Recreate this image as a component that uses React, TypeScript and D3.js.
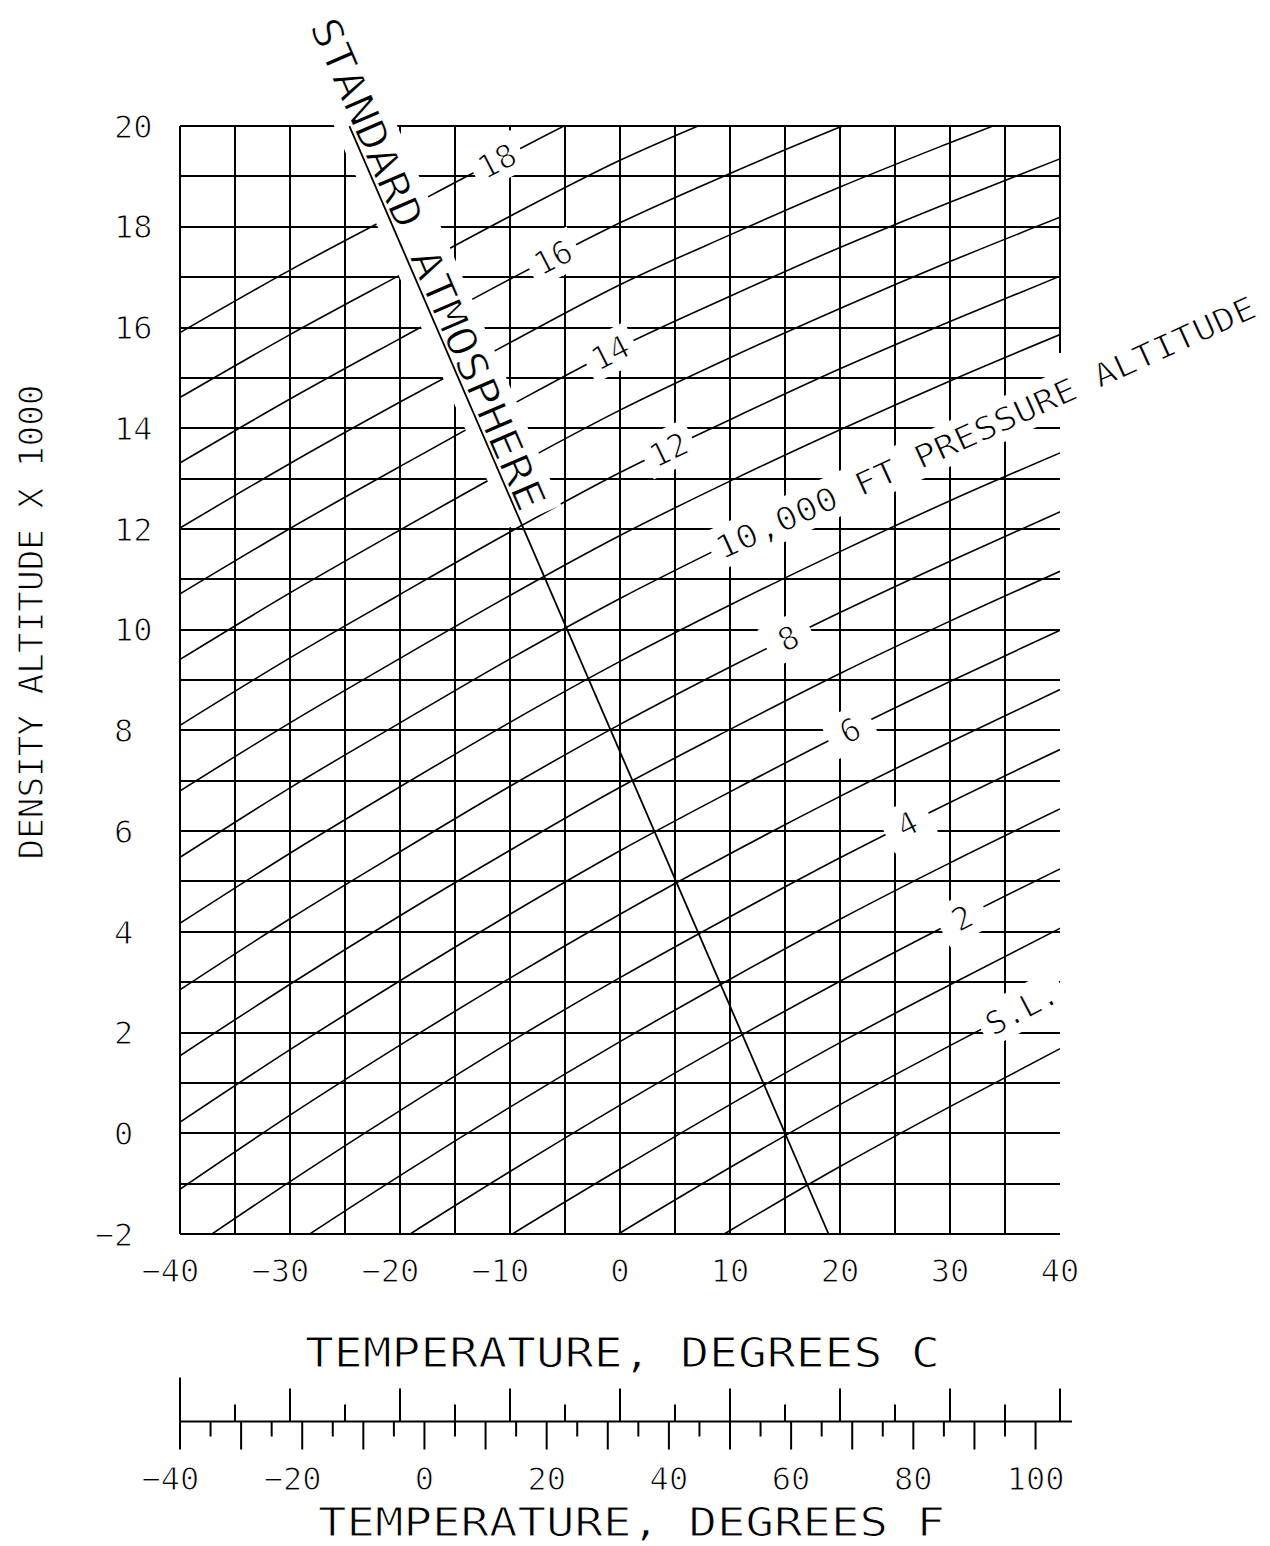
import React from "react";
import * as d3 from "d3";

// Temperatures (deg C) at which each pressure-altitude line was read
const temperaturesC = [-40, -30, -20, -10, 0, 10, 20, 30, 40];

// Density altitude (x1000 ft)
const daPAminus1 = [-9.08, -7.52, -6.03, -4.61, -3.25, -1.93, -0.66, 0.53, 1.68];
const daPA0 = [-7.74, -6.2, -4.72, -3.32, -1.98, -0.68, 0.57, 1.74, 2.88];
const daPA1 = [-6.41, -4.89, -3.43, -2.03, -0.71, 0.57, 1.8, 2.95, 4.07];
const daPA2 = [-5.08, -3.57, -2.13, -0.76, 0.56, 1.82, 3.02, 4.16, 5.25];
const daPA3 = [-3.76, -2.26, -0.84, 0.52, 1.82, 3.06, 4.25, 5.37, 6.44];
const daPA4 = [-2.43, -0.96, 0.45, 1.81, 3.09, 4.3, 5.47, 6.57, 7.62];
const daPA5 = [-1.11, 0.36, 1.75, 3.08, 4.35, 5.55, 6.69, 7.77, 8.81];
const daPA6 = [0.22, 1.66, 3.03, 4.35, 5.61, 6.78, 7.91, 8.97, 9.99];
const daPA7 = [1.54, 2.96, 4.32, 5.62, 6.87, 8.02, 9.13, 10.17, 11.16];
const daPA8 = [2.85, 4.26, 5.59, 6.89, 8.12, 9.26, 10.34, 11.36, 12.34];
const daPA9 = [4.17, 5.56, 6.88, 8.16, 9.37, 10.49, 11.55, 12.56, 13.51];
const daPA10 = [5.48, 6.86, 8.15, 9.42, 10.62, 11.72, 12.77, 13.75, 14.69];
const daPA11 = [6.8, 8.15, 9.43, 10.68, 11.87, 12.95, 13.97, 14.94, 15.86];
const daPA12 = [8.1, 9.44, 10.7, 11.94, 13.12, 14.17, 15.18, 16.12, 17.02];
const daPA13 = [9.41, 10.73, 11.98, 13.2, 14.36, 15.4, 16.38, 17.31, 18.19];
const daPA14 = [10.71, 12.01, 13.24, 14.45, 15.61, 16.62, 17.59, 18.49, 19.35];
const daPA15 = [12.02, 13.3, 14.52, 15.7, 16.85, 17.84, 18.79, 19.67, 20.52];
const daPA16 = [13.31, 14.58, 15.78, 16.96, 18.08, 19.06, 19.98, 20.85, 21.68];
const daPA17 = [14.61, 15.86, 17.04, 18.21, 19.32, 20.27, 21.18, 22.03, 22.83];
const daPA18 = [15.9, 17.14, 18.3, 19.45, 20.55, 21.49, 22.37, 23.2, 23.99];

const pressureAltitudes = [-1, 0, 1, 2, 3, 4, 5, 6, 7, 8, 9, 10, 11, 12, 13, 14, 15, 16, 17, 18];
const pressureLines = [
  daPAminus1, daPA0, daPA1, daPA2, daPA3, daPA4, daPA5, daPA6, daPA7, daPA8,
  daPA9, daPA10, daPA11, daPA12, daPA13, daPA14, daPA15, daPA16, daPA17, daPA18,
];

// Standard atmosphere line (temperature, density altitude) end points
const stdAtmosTemps = [-24.6, 18.96];
const stdAtmosDA = [20, -2];
const stdAtmosText = "STANDARD ATMOSPHERE";

// Labels on the pressure-altitude lines
const lineLabelPA = [0, 2, 4, 6, 8, 12, 14, 16, 18];
const lineLabelText = ["S.L.", "2", "4", "6", "8", "12", "14", "16", "18"];
const lineLabelTemp = [36.5, 31.1, 26.1, 20.9, 15.3, 4.4, -0.9, -6.1, -11.2];
const bigLabelPA = 10;
const bigLabelText = "10,000 FT PRESSURE ALTITUDE";
const bigLabelTemp = 8.8;

// Axis ticks
const yTickValues = [-2, 0, 2, 4, 6, 8, 10, 12, 14, 16, 18, 20];
const cTickLabels = [-40, -30, -20, -10, 0, 10, 20, 30, 40];
const fTickLabels = [-40, -20, 0, 20, 40, 60, 80, 100];
const cScaleTicks = d3.range(-40, 41, 5);
const fScaleTicks = d3.range(-40, 101, 5);

const yTitle = "DENSITY ALTITUDE X 1000";
const cTitle = "TEMPERATURE, DEGREES C";
const fTitle = "TEMPERATURE, DEGREES F";

const FONT = "'DejaVu Sans Mono', 'Liberation Mono', monospace";
const ADV = 0.602;
const CAP = 0.729;

function Txt(props: any) {
  return (
    <text
      fontFamily={FONT}
      fill="#000"
      stroke="#fff"
      strokeWidth={1}
      {...props}
    />
  );
}

export default function App() {
  const x = d3.scaleLinear().domain([-40, 40]).range([180, 1060]);
  const y = d3.scaleLinear().domain([-2, 20]).range([1234, 126.1]);
  const xF = (f: number) => x(((f - 32) * 5) / 9);

  const line = d3
    .line<[number, number]>()
    .x((d) => x(d[0]))
    .y((d) => y(d[1]))
    .curve(d3.curveMonotoneX);

  const daAt = (row: number[], t: number) =>
    d3.scaleLinear().domain(temperaturesC).range(row)(t);
  const angleAt = (row: number[], t0: number, t1: number) =>
    (Math.atan2(y(daAt(row, t1)) - y(daAt(row, t0)), x(t1) - x(t0)) * 180) / Math.PI;

  const rowFor = (pa: number) => pressureLines[pressureAltitudes.indexOf(pa)];

  const gridTemps = d3.range(-40, 40, 5);
  const gridDA = d3.range(-2, 21, 1);

  const tickFs = 32;
  const adv = tickFs * ADV;

  // standard atmosphere geometry
  const p0: [number, number] = [x(stdAtmosTemps[0]), y(stdAtmosDA[0])];
  const p1: [number, number] = [x(stdAtmosTemps[1]), y(stdAtmosDA[1])];
  const stdAngle = (Math.atan2(p1[1] - p0[1], p1[0] - p0[0]) * 180) / Math.PI;
  const stdStart = -108;
  const stdLen = 532;

  // big label geometry
  const bigRow = rowFor(bigLabelPA);
  const bigX = x(bigLabelTemp);
  const bigY = y(daAt(bigRow, bigLabelTemp));
  const bigAngle = angleAt(bigRow, bigLabelTemp, 40);
  const bigLen = 590;

  const smallLabels = lineLabelPA.map((pa, i) => {
    const row = rowFor(pa);
    const t = lineLabelTemp[i];
    const tw = lineLabelText[i].length * adv;
    return {
      key: lineLabelText[i],
      text: lineLabelText[i],
      cx: x(t),
      cy: y(daAt(row, t)),
      angle: angleAt(row, t - 4, t + 4),
      w: Math.max(tw + 14, 48),
      tw,
    };
  });

  const gridStroke = { stroke: "#000", strokeWidth: 2, shapeRendering: "crispEdges" as const };

  return (
    <svg
      width={1270}
      height={1546}
      style={{ position: "absolute", left: 0, top: 0, background: "#fff" }}
    >
      <defs>
        <clipPath id="plotClip">
          <rect x={180} y={y(20)} width={880} height={y(-2) - y(20)} />
        </clipPath>
      </defs>
      <rect x={0} y={0} width={1270} height={1546} fill="#fff" />

      {/* grid */}
      {gridTemps.map((t) => (
        <line key={"v" + t} x1={x(t)} x2={x(t)} y1={y(20)} y2={y(-2)} {...gridStroke} />
      ))}
      <line x1={x(40)} x2={x(40)} y1={y(20)} y2={y(15.5)} {...gridStroke} />
      {gridDA.map((d) => (
        <line key={"h" + d} x1={x(-40)} x2={x(40)} y1={y(d)} y2={y(d)} {...gridStroke} />
      ))}

      {/* pressure altitude lines */}
      <g clipPath="url(#plotClip)">
        {pressureLines.map((row, i) => (
          <path
            key={"pa" + pressureAltitudes[i]}
            d={line(temperaturesC.map((t, j) => [t, row[j]] as [number, number])) || ""}
            fill="none"
            stroke="#000"
            strokeWidth={1.6}
          />
        ))}
      </g>

      {/* knockouts */}
      {smallLabels.map((l) => (
        <rect
          key={"ko" + l.key}
          transform={`translate(${l.cx},${l.cy}) rotate(${l.angle})`}
          x={-l.w / 2}
          y={-21}
          width={l.w}
          height={42}
          fill="#fff"
        />
      ))}
      <rect
        transform={`translate(${bigX},${bigY}) rotate(${bigAngle})`}
        x={-6}
        y={-21}
        width={bigLen + 14}
        height={42}
        fill="#fff"
      />
      <rect
        transform={`translate(${p0[0]},${p0[1]}) rotate(${stdAngle})`}
        x={stdStart - 6}
        y={-44}
        width={stdLen + 14}
        height={58}
        fill="#fff"
      />

      {/* standard atmosphere line */}
      <path
        d={line([
          [stdAtmosTemps[0], stdAtmosDA[0]],
          [stdAtmosTemps[1], stdAtmosDA[1]],
        ]) || ""}
        stroke="#000"
        strokeWidth={1.8}
        fill="none"
      />

      {/* labels on lines */}
      {smallLabels.map((l) => (
        <Txt
          key={"lt" + l.key}
          transform={`translate(${l.cx},${l.cy}) rotate(${l.angle})`}
          x={0}
          y={(tickFs * CAP) / 2}
          fontSize={tickFs}
          textAnchor="middle"
        >
          {l.text}
        </Txt>
      ))}
      <Txt
        transform={`translate(${bigX},${bigY}) rotate(${bigAngle})`}
        x={0}
        y={(tickFs * CAP) / 2}
        fontSize={tickFs}
        textLength={bigLen}
        lengthAdjust="spacingAndGlyphs"
      >
        {bigLabelText}
      </Txt>
      <Txt
        transform={`translate(${p0[0]},${p0[1]}) rotate(${stdAngle})`}
        x={stdStart}
        y={-3}
        fontSize={41}
        textLength={stdLen}
        lengthAdjust="spacingAndGlyphs"
      >
        {stdAtmosText}
      </Txt>

      {/* y tick labels */}
      {yTickValues.map((v) => (
        <Txt
          key={"yt" + v}
          x={114 - (v < 0 ? adv : 0)}
          y={y(v) + (tickFs * CAP) / 2}
          fontSize={tickFs}
        >
          {(v < 0 ? "\u2212" : "") + Math.abs(v)}
        </Txt>
      ))}

      {/* C tick labels */}
      {cTickLabels.map((v) => (
        <Txt
          key={"ct" + v}
          x={x(v) + (String(Math.abs(v)).length * adv) / 2}
          y={1282}
          fontSize={tickFs}
          textAnchor="end"
        >
          {(v < 0 ? "\u2212" : "") + Math.abs(v)}
        </Txt>
      ))}

      {/* dual scale */}
      <line x1={180} x2={1072} y1={1421.5} y2={1421.5} stroke="#000" strokeWidth={2} />
      {cScaleTicks.map((v) => {
        const len = v === -40 ? 44 : v % 10 === 0 ? 33 : 17;
        return (
          <line
            key={"cs" + v}
            x1={x(v)}
            x2={x(v)}
            y1={1421.5}
            y2={1421.5 - len}
            stroke="#000"
            strokeWidth={2}
          />
        );
      })}
      {fScaleTicks.map((v) => {
        const len = v % 10 === 0 ? 28 : 15;
        return (
          <line
            key={"fs" + v}
            x1={xF(v)}
            x2={xF(v)}
            y1={1421.5}
            y2={1421.5 + len}
            stroke="#000"
            strokeWidth={2}
          />
        );
      })}
      {fTickLabels.map((v) => (
        <Txt
          key={"ft" + v}
          x={xF(v) + (String(Math.abs(v)).length * adv) / 2}
          y={1490}
          fontSize={tickFs}
          textAnchor="end"
        >
          {(v < 0 ? "\u2212" : "") + Math.abs(v)}
        </Txt>
      ))}

      {/* titles */}
      <Txt
        transform="translate(43,622) rotate(-90)"
        x={0}
        y={0}
        fontSize={34}
        textAnchor="middle"
        textLength={475}
        lengthAdjust="spacingAndGlyphs"
      >
        {yTitle}
      </Txt>
      <Txt x={305} y={1367} fontSize={41} textLength={635} lengthAdjust="spacingAndGlyphs">
        {cTitle}
      </Txt>
      <Txt x={318} y={1536} fontSize={39} textLength={627} lengthAdjust="spacingAndGlyphs">
        {fTitle}
      </Txt>
    </svg>
  );
}
